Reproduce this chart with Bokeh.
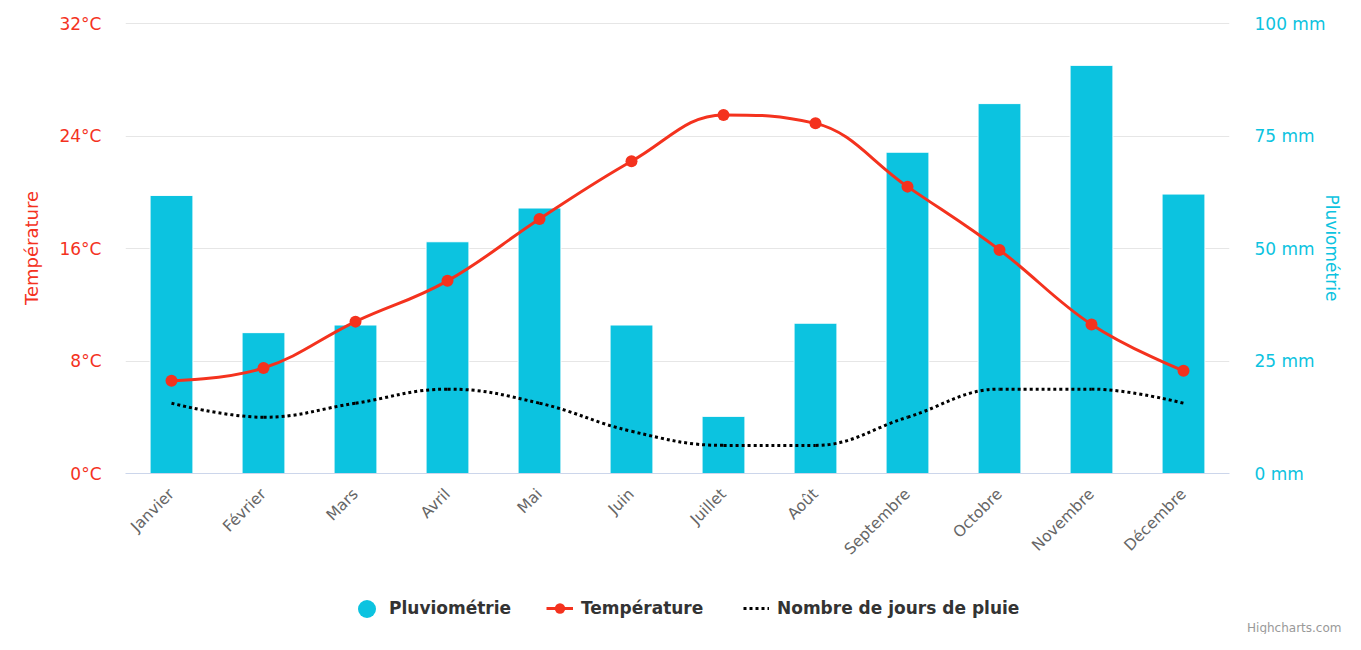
import math
from bokeh.plotting import figure
from bokeh.layouts import column
from bokeh.models import (Range1d, LinearAxis, FixedTicker, PrintfTickFormatter,
                          ColumnDataSource, Legend, LegendItem, Title)
from bokeh.embed import file_html
from bokeh.resources import INLINE

# ---------------- data ----------------
months = ["Janvier", "Février", "Mars", "Avril", "Mai", "Juin", "Juillet",
          "Août", "Septembre", "Octobre", "Novembre", "Décembre"]
rain_mm = [61.8, 31.3, 33.0, 51.5, 59.0, 33.0, 12.7, 33.4, 71.4, 82.2, 90.7, 62.1]
temp_c = [6.6, 7.5, 10.8, 13.7, 18.1, 22.2, 25.5, 24.9, 20.4, 15.9, 10.6, 7.3]
rain_days = [5, 4, 5, 6, 5, 3, 2, 2, 4, 6, 6, 5]
temp_ticks = [0, 8, 16, 24, 32]
rain_ticks = [0, 25, 50, 75, 100]

RED = "#f4321e"
CYAN = "#0cc3e0"
FONT = "DejaVu Sans"

xpos = list(range(len(months)))


def spline_segments(xs, ys, smoothing=1.5):
    """Highcharts-style spline: cubic bezier control points from neighbours."""
    n = len(xs)
    lc = [None] * n
    rc = [None] * n
    denom = smoothing + 1
    for i in range(1, n - 1):
        x, y = xs[i], ys[i]
        lx, ly = xs[i - 1], ys[i - 1]
        nx, ny = xs[i + 1], ys[i + 1]
        lcx = (smoothing * x + lx) / denom
        lcy = (smoothing * y + ly) / denom
        rcx = (smoothing * x + nx) / denom
        rcy = (smoothing * y + ny) / denom
        corr = ((rcy - lcy) * (rcx - x)) / (rcx - lcx) + y - rcy
        lcy += corr
        rcy += corr
        if lcy > ly and lcy > y:
            lcy = max(ly, y); rcy = 2 * y - lcy
        elif lcy < ly and lcy < y:
            lcy = min(ly, y); rcy = 2 * y - lcy
        if rcy > ny and rcy > y:
            rcy = max(ny, y); lcy = 2 * y - rcy
        elif rcy < ny and rcy < y:
            rcy = min(ny, y); lcy = 2 * y - rcy
        lc[i] = (lcx, lcy)
        rc[i] = (rcx, rcy)
    seg = dict(x0=[], y0=[], x1=[], y1=[], cx0=[], cy0=[], cx1=[], cy1=[])
    for i in range(1, n):
        a = rc[i - 1] or (xs[i - 1], ys[i - 1])
        b = lc[i] or (xs[i], ys[i])
        seg["x0"].append(xs[i - 1]); seg["y0"].append(ys[i - 1])
        seg["x1"].append(xs[i]); seg["y1"].append(ys[i])
        seg["cx0"].append(a[0]); seg["cy0"].append(a[1])
        seg["cx1"].append(b[0]); seg["cy1"].append(b[1])
    return seg


W = 1345
H_MAIN = 575
H_LEG = 59
FRAME_TOP = 22          # one pixel of headroom so the top grid line shows
FRAME_H = 473 - FRAME_TOP
PAD = FRAME_H / 450.0   # keep tick 32 / 100 at the same pixel as the reference

# ---------------- main figure ----------------
p = figure(width=W, height=H_MAIN,
           x_range=Range1d(-0.5, len(months) - 0.5),
           y_range=Range1d(temp_ticks[0], temp_ticks[-1] * PAD),
           output_backend="svg", toolbar_location=None,
           min_border_left=125, min_border_right=115,
           min_border_top=FRAME_TOP, min_border_bottom=H_MAIN - 473)
p.outline_line_color = None
p.extra_y_ranges = {"rain": Range1d(rain_ticks[0], rain_ticks[-1] * PAD)}

p.xgrid.visible = False
p.ygrid.grid_line_color = "#e6e6e6"
p.ygrid.grid_line_width = 1

xa = p.xaxis[0]
xa.ticker = FixedTicker(ticks=xpos)
xa.major_label_overrides = {i: m for i, m in zip(xpos, months)}
xa.major_label_orientation = math.pi / 4
xa.major_label_text_font = FONT
xa.major_label_text_font_size = "15.5px"
xa.major_label_text_color = "#666666"
xa.major_label_standoff = 18
xa.major_tick_line_color = None
xa.minor_tick_line_color = None
xa.major_tick_out = 0
xa.major_tick_in = 0
xa.minor_tick_out = 0
xa.minor_tick_in = 0
xa.axis_line_color = "#ccd6eb"
xa.axis_line_width = 1

ya = p.yaxis[0]
ya.ticker = FixedTicker(ticks=temp_ticks)
ya.formatter = PrintfTickFormatter(format="%d°C")
ya.major_label_text_font = FONT
ya.major_label_text_font_size = "17px"
ya.major_label_text_color = RED
ya.major_label_standoff = 24
ya.major_tick_line_color = None
ya.minor_tick_line_color = None
ya.major_tick_out = 0
ya.major_tick_in = 0
ya.minor_tick_out = 0
ya.minor_tick_in = 0
ya.axis_line_color = None
ya.axis_label = "Température"
ya.axis_label_text_font = FONT
ya.axis_label_text_font_size = "18px"
ya.axis_label_text_font_style = "normal"
ya.axis_label_text_color = RED
ya.axis_label_standoff = 14

ra = LinearAxis(y_range_name="rain",
                ticker=FixedTicker(ticks=rain_ticks),
                formatter=PrintfTickFormatter(format="%d mm"))
ra.major_label_text_font = FONT
ra.major_label_text_font_size = "17px"
ra.major_label_text_color = CYAN
ra.major_label_standoff = 25
ra.major_tick_line_color = None
ra.minor_tick_line_color = None
ra.major_tick_out = 0
ra.major_tick_in = 0
ra.minor_tick_out = 0
ra.minor_tick_in = 0
ra.axis_line_color = None
ra.axis_label = "Pluviométrie"
ra.axis_label_text_font = FONT
ra.axis_label_text_font_size = "17px"
ra.axis_label_text_font_style = "normal"
ra.axis_label_text_color = CYAN
ra.axis_label_standoff = -6
p.add_layout(ra, "right")

bars_src = ColumnDataSource(dict(x=xpos, top=rain_mm))
p.vbar(x="x", top="top", width=0.466, bottom=0, source=bars_src,
       y_range_name="rain", fill_color=CYAN, line_color="#ffffff", line_width=1)

temp_seg = ColumnDataSource(spline_segments(xpos, temp_c))
p.bezier(x0="x0", y0="y0", x1="x1", y1="y1", cx0="cx0", cy0="cy0",
         cx1="cx1", cy1="cy1", source=temp_seg, line_color=RED, line_width=3)
p.scatter(xpos, temp_c, size=12, fill_color=RED, line_color=None, marker="circle")

days_seg = ColumnDataSource(spline_segments(xpos, rain_days))
p.bezier(x0="x0", y0="y0", x1="x1", y1="y1", cx0="cx0", cy0="cy0",
         cx1="cx1", cy1="cy1", source=days_seg, line_color="black",
         line_width=3, line_dash="3 3")

# ---------------- legend strip ----------------
q = figure(width=W, height=H_LEG, x_range=Range1d(0, 1), y_range=Range1d(0, 1),
           output_backend="svg", toolbar_location=None,
           x_axis_location=None, y_axis_location=None,
           min_border_left=0, min_border_right=0,
           min_border_top=0, min_border_bottom=0)
q.outline_line_color = None
for g in q.grid:
    g.visible = False

# legend proxies: one point each, placed outside the strip's visible range
off = [-10]
lg_rain = q.scatter(off, off, marker="circle", fill_color=CYAN, line_color=None)
lg_temp_line = q.line(off, off, line_color=RED, line_width=3)
lg_temp_mark = q.scatter(off, off, marker="circle", fill_color=RED, line_color=None)
lg_days = q.line(off, off, line_color="black", line_width=3, line_dash="3 3")


def make_legend(label, renderers, loc, gw, gh, standoff):
    lg = Legend(items=[LegendItem(label=label, renderers=renderers)],
                location=loc, orientation="horizontal",
                glyph_width=gw, glyph_height=gh, label_standoff=standoff,
                padding=0, margin=0, spacing=0,
                border_line_color=None, background_fill_alpha=0,
                label_text_font=FONT, label_text_font_style="bold",
                label_text_font_size="17px", label_text_color="#333333")
    q.add_layout(lg)
    return lg


# frame of the strip is aligned with the chart frame (left edge at x=125)
make_legend("Pluviométrie", [lg_rain], (219, -12.5), 45, 45, 0)
make_legend("Température", [lg_temp_line, lg_temp_mark], (421, -3), 27, 26, 8)
make_legend("Nombre de jours de pluie", [lg_days], (618, 0), 26, 20, 8)

credit = Title(text="Highcharts.com", align="right", offset=-112, standoff=0,
               text_font=FONT, text_font_size="12px", text_font_style="normal",
               text_color="#999999")
q.add_layout(credit, "below")

layout = column(p, q, spacing=0)
open("out.html", "w").write(file_html(layout, INLINE))
